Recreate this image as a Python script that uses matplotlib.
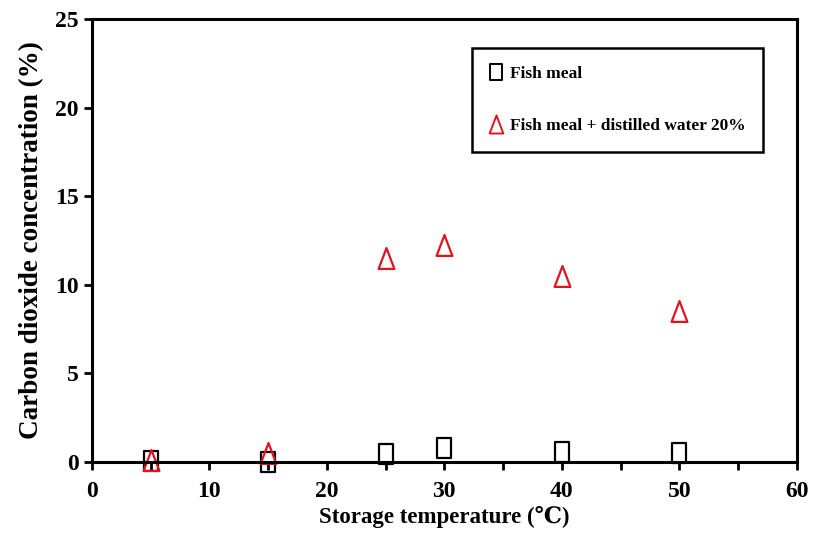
import matplotlib
matplotlib.use("Agg")
import matplotlib.pyplot as plt
from matplotlib.path import Path
from matplotlib.lines import Line2D
import numpy as np

temps = [5, 15, 25, 30, 40, 50]
fish_meal = [0.05, 0.0, 0.45, 0.8, 0.55, 0.5]
fish_meal_water = [0.1, 0.5, 11.5, 12.25, 10.5, 8.5]
labels = ["Fish meal", "Fish meal + distilled water 20%"]

plt.rcParams['font.family'] = ['Liberation Serif', 'DejaVu Serif', 'DejaVu Sans']
plt.rcParams['font.weight'] = 'bold'

# Tall (horizontally compressed) marker shapes
sq = Path([(-0.35, -0.5), (0.35, -0.5), (0.35, 0.5), (-0.35, 0.5), (-0.35, -0.5)],
          [Path.MOVETO, Path.LINETO, Path.LINETO, Path.LINETO, Path.CLOSEPOLY])
tri = Path([(-0.38, -0.5), (0.38, -0.5), (0.0, 0.5), (-0.38, -0.5)],
           [Path.MOVETO, Path.LINETO, Path.LINETO, Path.CLOSEPOLY])

red = '#e0141e'

fig = plt.figure(figsize=(8.13, 5.46), dpi=100)
ax = fig.add_axes([0.113, 0.154, 0.867, 0.811])

ax.plot(temps, fish_meal, linestyle='none', marker=sq, markersize=14,
        markerfacecolor='none', markeredgecolor='black', markeredgewidth=1.6,
        label=labels[0], clip_on=False)
ax.plot(temps, fish_meal_water, linestyle='none', marker=tri, markersize=15,
        markerfacecolor='none', markeredgecolor=red, markeredgewidth=1.6,
        label=labels[1], clip_on=False)

ax.set_xlim(0, 60)
ax.set_ylim(0, 25)
ax.set_xticks(np.arange(0, 61, 10))
ax.set_xticks(np.arange(0, 61, 5), minor=True)
ax.set_yticks(np.arange(0, 26, 5))
for s in ax.spines.values():
    s.set_linewidth(2.2)
ax.tick_params(which='both', direction='out', width=2, length=5.5, labelsize=17)
ax.tick_params(axis='x', pad=8)
ax.tick_params(axis='y', pad=4)

ax.set_xlabel("Storage temperature (℃)", fontsize=16.5, fontweight='bold', labelpad=3)
ax.set_ylabel("Carbon dioxide concentration (%)", fontsize=19.5, fontweight='bold', labelpad=8)

handles = [
    Line2D([], [], linestyle='none', marker=sq, markersize=12, markerfacecolor='none',
           markeredgecolor='black', markeredgewidth=1.4),
    Line2D([], [], linestyle='none', marker=tri, markersize=13, markerfacecolor='none',
           markeredgecolor=red, markeredgewidth=1.4),
]
leg = ax.legend(handles, labels, loc='upper left', bbox_to_anchor=(0.539, 0.934),
                fancybox=False, edgecolor='black', framealpha=1,
                prop={'size': 12.5, 'weight': 'bold'}, labelspacing=2.1,
                handlelength=0.8, handletextpad=0.4, borderpad=1.0, borderaxespad=0)
leg.get_frame().set_linewidth(1.8)

fig.savefig("out.png", dpi=100)
